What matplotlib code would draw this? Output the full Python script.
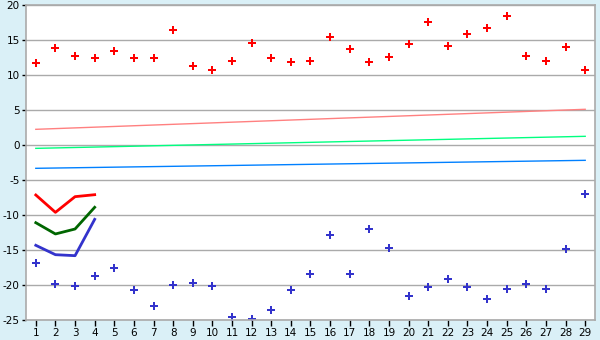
import matplotlib
matplotlib.use('Agg')
import matplotlib.pyplot as plt
import numpy as np

plt.rcParams['axes.unicode_minus'] = False

# categories 1..29
days = list(range(1, 30))

high_pts = [11.67, 13.81, 12.67, 12.38, 13.38, 12.38, 12.38, 16.38, 11.24, 10.67,
            11.95, 14.52, 12.38, 11.81, 11.95, 15.38, 13.67, 11.81, 12.52, 14.38,
            17.52, 14.10, 15.81, 16.67, 18.38, 12.67, 11.95, 13.95, 10.67]
low_pts = [-16.9, -19.9, -20.2, -18.76, -17.62, -20.76, -23.05, -20.05, -19.76, -20.2,
           -24.62, -24.9, -23.62, -20.76, -18.48, -12.9, -18.48, -12.05, -14.76, -21.62,
           -20.33, -19.19, -20.33, -22.05, -20.62, -19.9, -20.62, -14.9, -7.05]

# trend lines (start, end)
trend_x = [1, 29]
trend_high = [2.24, 5.1]
trend_mid = [-0.48, 1.24]
trend_low = [-3.33, -2.19]

# short series, first four days
short_x = [1, 2, 3, 4]
short_red = [-7.14, -9.62, -7.38, -7.1]
short_green = [-11.1, -12.71, -12.0, -8.9]
short_blue = [-14.33, -15.67, -15.81, -10.62]

fig = plt.figure(figsize=(6, 3.4), dpi=100, facecolor='#daf0f7')
ax = fig.add_axes([26/600, 20/340, 569/600, 315/340])
ax.set_facecolor('white')

ax.plot(trend_x, trend_high, color='#ff8080', lw=1)
ax.plot(trend_x, trend_mid, color='#00ff80', lw=1)
ax.plot(trend_x, trend_low, color='#0080ff', lw=1)

ax.plot(short_x, short_red, color='#ff0000', lw=2)
ax.plot(short_x, short_green, color='#006600', lw=2)
ax.plot(short_x, short_blue, color='#3333cc', lw=2)

ax.plot(days, high_pts, ls='none', marker='P', ms=6, color='#ff0000', mew=0)
ax.plot(days, low_pts, ls='none', marker='P', ms=6, color='#3333cc', mew=0)

ax.set_xlim(0.5, 29.5)
ax.set_ylim(-25, 20)
ax.set_xticks(days)
ax.set_yticks(range(-25, 21, 5))
ax.yaxis.grid(True, color='#aaaaaa', lw=1)
ax.set_axisbelow(True)
for s in ax.spines.values():
    s.set_color('#aaaaaa')
    s.set_linewidth(1.2)
ax.tick_params(axis='both', colors='black', labelsize=7.5, width=1)
ax.tick_params(axis='x', length=4, pad=2)
ax.tick_params(axis='y', length=3, pad=1.5)

fig.savefig('out.png', dpi=100, facecolor=fig.get_facecolor())
